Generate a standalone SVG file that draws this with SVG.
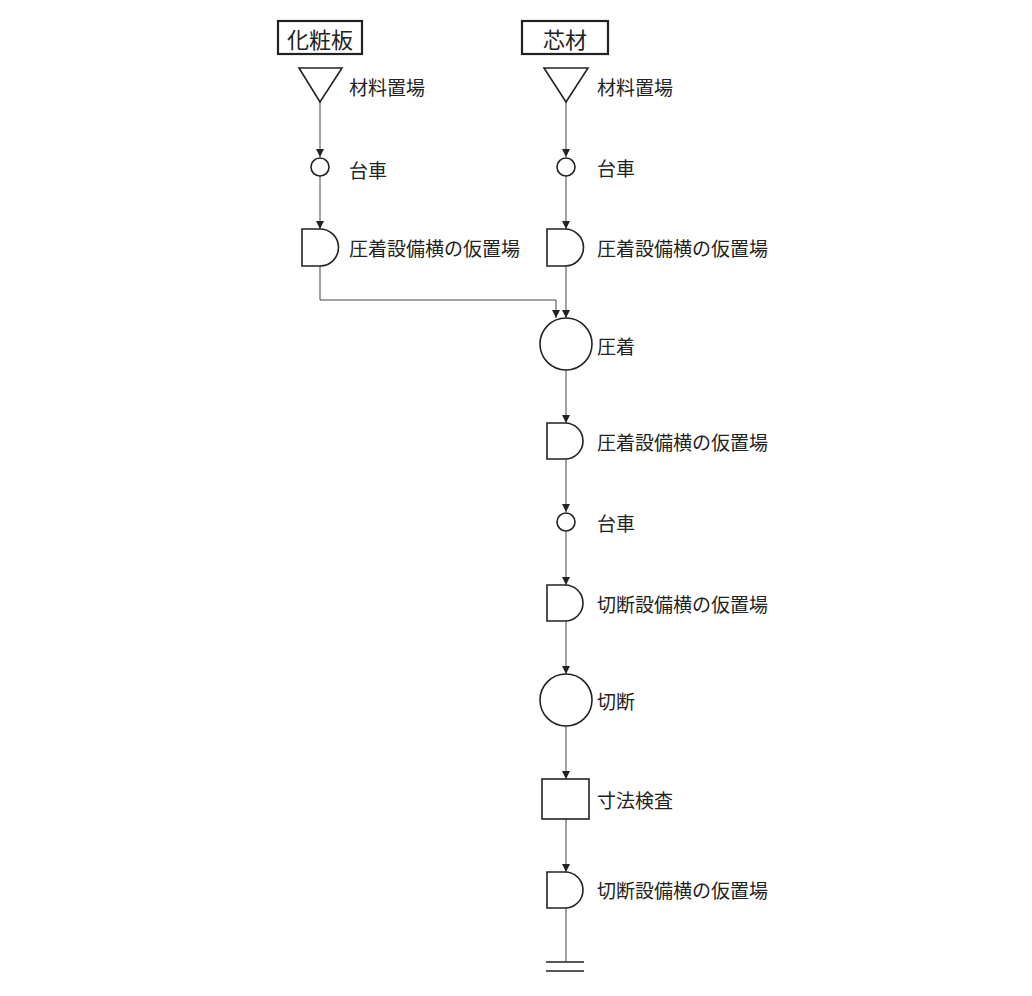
<svg xmlns="http://www.w3.org/2000/svg" width="1032" height="996" viewBox="0 0 1032 996">
<style>
.s{fill:#fff;stroke:#222;stroke-width:1.6}
.b{stroke-width:2.2}
.c{fill:none;stroke:#444;stroke-width:1}
text{font-family:"Noto Sans CJK JP","Liberation Serif",serif;font-size:19px;fill:#222;dominant-baseline:central}
.h{font-size:22px}
</style>
<defs><marker id="a" markerWidth="10" markerHeight="10" refX="8" refY="5" orient="auto" markerUnits="userSpaceOnUse" viewBox="0 0 10 10"><path d="M0,1 L8,5 L0,9 z" fill="#222"/></marker></defs>
<g id="connectors">
<path class="c" d="M320,102 V157" marker-end="url(#a)"/>
<path class="c" d="M320,176 V229" marker-end="url(#a)"/>
<path class="c" d="M320,266 V300 H556 V318" marker-end="url(#a)"/>
<path class="c" d="M566,102 V157" marker-end="url(#a)"/>
<path class="c" d="M566,176 V229" marker-end="url(#a)"/>
<path class="c" d="M566,266 V318" marker-end="url(#a)"/>
<path class="c" d="M566,370 V423" marker-end="url(#a)"/>
<path class="c" d="M566,459 V512" marker-end="url(#a)"/>
<path class="c" d="M566,531 V585" marker-end="url(#a)"/>
<path class="c" d="M566,621 V674" marker-end="url(#a)"/>
<path class="c" d="M566,726 V779" marker-end="url(#a)"/>
<path class="c" d="M566,819 V872" marker-end="url(#a)"/>
<path class="c" d="M566,908 V962"/>
</g>
<g id="h1"><rect class="s b" x="278" y="21" width="84" height="33"/><text class="h" x="320" y="38" text-anchor="middle">化粧板</text></g>
<g id="h2"><rect class="s b" x="522" y="21" width="86" height="33"/><text class="h" x="565" y="38" text-anchor="middle">芯材</text></g>
<g id="n1"><path class="s" d="M299,68 H342 L320,102 Z"/><text x="349" y="86">材料置場</text></g>
<g id="n2"><circle class="s" cx="320" cy="167" r="9"/><text x="349" y="169">台車</text></g>
<g id="n3"><path class="s" d="M302,229 H320 A18.5,18.5 0 0 1 320,266 H302 Z"/><text x="349" y="247">圧着設備横の仮置場</text></g>
<g id="n4"><path class="s" d="M544,68 H588 L566,102 Z"/><text x="597" y="86">材料置場</text></g>
<g id="n5"><circle class="s" cx="566" cy="167" r="9"/><text x="597" y="167">台車</text></g>
<g id="n6"><path class="s" d="M547,229 H565 A18.5,18.5 0 0 1 565,266 H547 Z"/><text x="597" y="247">圧着設備横の仮置場</text></g>
<g id="n7"><circle class="s" cx="566" cy="344" r="26"/><text x="597" y="345">圧着</text></g>
<g id="n8"><path class="s" d="M547,423 H565 A18,18 0 0 1 565,459 H547 Z"/><text x="597" y="441">圧着設備横の仮置場</text></g>
<g id="n9"><circle class="s" cx="566" cy="522" r="9"/><text x="597" y="522">台車</text></g>
<g id="n10"><path class="s" d="M547,585 H565 A18,18 0 0 1 565,621 H547 Z"/><text x="597" y="603">切断設備横の仮置場</text></g>
<g id="n11"><circle class="s" cx="566" cy="700" r="26"/><text x="597" y="700">切断</text></g>
<g id="n12"><rect class="s" x="542" y="779" width="47" height="40"/><text x="597" y="799">寸法検査</text></g>
<g id="n13"><path class="s" d="M547,872 H565 A18,18 0 0 1 565,908 H547 Z"/><text x="597" y="889">切断設備横の仮置場</text></g>
<g id="end"><path class="s" d="M546,962 H584 M546,971 H584"/></g>
</svg>
